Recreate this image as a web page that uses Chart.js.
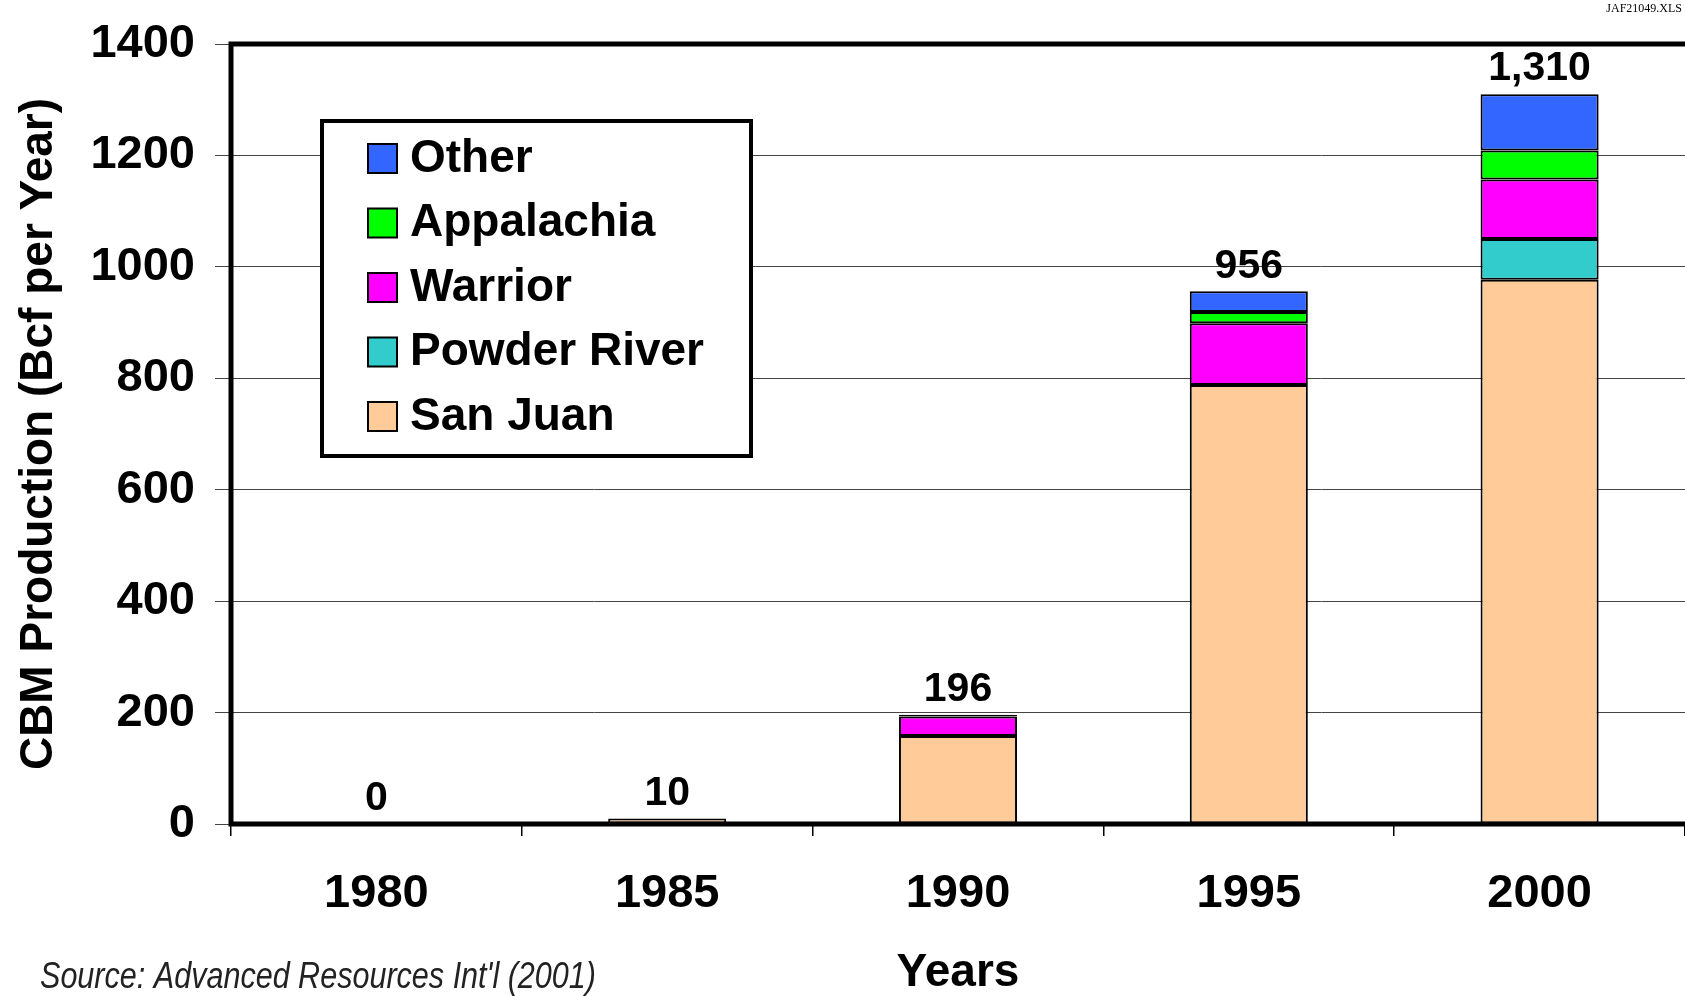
<!DOCTYPE html>
<html>
<head>
<meta charset="utf-8">
<script src="https://cdn.jsdelivr.net/npm/chart.js@4.4.1/dist/chart.umd.min.js"></script>
<style>
  html, body { margin: 0; padding: 0; background: #fff; overflow: hidden; }
  #wrap { width: 1685px; height: 996px; position: relative; }
</style>
</head>
<body>
<div id="wrap"><canvas id="cbm"></canvas></div>
<script>
const years = ['1980', '1985', '1990', '1995', '2000'];
const sanJuan = [0, 10, 158, 788, 977];
const powderRiver = [0, 0, 0, 0, 73];
const warrior = [0, 0, 35, 111, 107];
const appalachia = [0, 0, 1, 20, 52];
const other = [0, 0, 2, 37, 101];
const totals = [0, 10, 196, 956, 1310];
const yTicks = [0, 200, 400, 600, 800, 1000, 1200, 1400];

const FONT = '"Liberation Sans", Arial, sans-serif';

// totals over each bar
const totalLabels = {
  id: 'totalLabels',
  afterDatasetsDraw(chart) {
    const c = chart.ctx, x = chart.scales.x, y = chart.scales.y;
    c.save();
    c.font = 'bold 41px ' + FONT;
    c.fillStyle = '#000';
    c.textAlign = 'center';
    c.textBaseline = 'middle';
    totals.forEach((t, i) => {
      c.fillText(t.toLocaleString('en-US'), x.getPixelForValue(i), y.getPixelForValue(t) - 25);
    });
    c.restore();
  }
};

// heavy frame, legend box and notes
const frame = {
  id: 'frame',
  afterDatasetsDraw(chart) {
    const c = chart.ctx, a = chart.chartArea;
    c.save();
    c.strokeStyle = '#000';
    c.lineWidth = 5;
    c.beginPath();
    c.moveTo(chart.width + 5, a.top);
    c.lineTo(a.left, a.top);
    c.lineTo(a.left, a.bottom);
    c.lineTo(chart.width + 5, a.bottom);
    c.stroke();
    c.restore();
  },
  afterDraw(chart) {
    const c = chart.ctx;
    c.save();
    // legend
    c.fillStyle = '#fff';
    c.fillRect(322, 121, 429, 335);
    c.strokeStyle = '#000';
    c.lineWidth = 4;
    c.strokeRect(322, 121, 429, 335);
    const ds = chart.data.datasets.slice().reverse();
    c.font = 'bold 46px ' + FONT;
    c.textBaseline = 'middle';
    c.textAlign = 'left';
    ds.forEach((d, i) => {
      const cy = 158 + i * 64.5;
      c.fillStyle = d.backgroundColor;
      c.fillRect(368, cy - 14, 29, 29);
      c.lineWidth = 2;
      c.strokeStyle = '#000';
      c.strokeRect(368, cy - 14, 29, 29);
      c.fillStyle = '#000';
      c.fillText(d.label, 410, cy + 1);
    });
    // source note, squeezed to the narrow face of the original
    const src = 'Source: Advanced Resources Int\'l (2001)';
    c.font = 'italic 36px ' + FONT;
    c.fillStyle = '#222';
    const w = c.measureText(src).width;
    c.translate(40, 978);
    c.scale(556 / w, 1);
    c.fillText(src, 0, 0);
    c.setTransform(1, 0, 0, 1, 0, 0);
    // file tag
    c.font = '12px "Liberation Serif", "Times New Roman", serif';
    c.textAlign = 'right';
    c.fillStyle = '#000';
    c.fillText('JAF21049.XLS', 1682, 9);
    c.restore();
  }
};

function series(label, data, color) {
  return {
    label: label,
    data: data,
    backgroundColor: color,
    borderColor: '#000',
    borderWidth: 2,
    borderSkipped: false,
    barPercentage: 0.406,
    categoryPercentage: 1
  };
}

new Chart(document.getElementById('cbm'), {
  type: 'bar',
  data: {
    labels: years,
    datasets: [
      series('San Juan', sanJuan, '#FFCC99'),
      series('Powder River', powderRiver, '#33CCCC'),
      series('Warrior', warrior, '#FF00FF'),
      series('Appalachia', appalachia, '#00FF00'),
      series('Other', other, '#3366FF')
    ]
  },
  options: {
    responsive: true,
    maintainAspectRatio: false,
    animation: false,
    layout: { padding: { top: 44, right: 0, bottom: 0, left: 0 } },
    plugins: {
      legend: { display: false },
      tooltip: { enabled: false }
    },
    scales: {
      x: {
        stacked: true,
        afterFit(s) { s.height = 172; },
        border: { display: false },
        grid: { offset: true, drawOnChartArea: false, tickLength: 12, color: '#000', lineWidth: 1.5 },
        ticks: { color: '#000', padding: 30, font: { family: FONT, size: 47, weight: 'bold' } },
        title: {
          display: true, text: 'Years', color: '#000',
          padding: { top: 18, bottom: 0 },
          font: { family: FONT, size: 46, weight: 'bold', lineHeight: 1 }
        }
      },
      y: {
        stacked: true,
        min: 0,
        max: 1400,
        afterFit(s) { s.width = 231; },
        afterBuildTicks(s) { s.ticks = yTicks.map(v => ({ value: v })); },
        border: { display: false },
        grid: { color: '#444', lineWidth: 1, tickLength: 16 },
        ticks: {
          color: '#000', padding: 20,
          font: { family: FONT, size: 47, weight: 'bold', lineHeight: 0.8 },
          callback: v => String(v)
        },
        title: {
          display: true, text: 'CBM Production (Bcf per Year)', color: '#000',
          padding: { top: 12, bottom: 0 },
          font: { family: FONT, size: 46, weight: 'bold' }
        }
      }
    }
  },
  plugins: [totalLabels, frame]
});
</script>
</body>
</html>
